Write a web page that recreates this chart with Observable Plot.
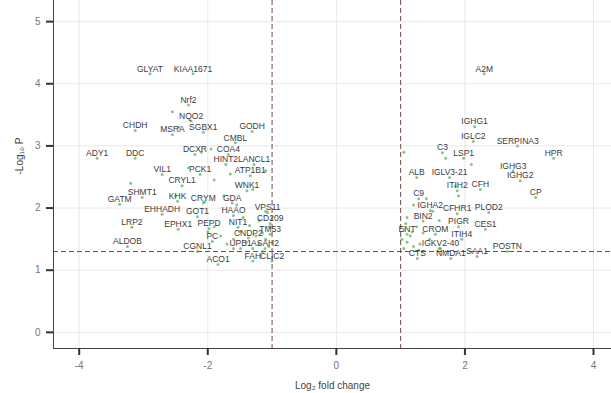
<!DOCTYPE html>
<html>
<head>
<meta charset="utf-8">
<script src="https://cdn.jsdelivr.net/npm/d3@7"></script>
<script src="https://cdn.jsdelivr.net/npm/@observablehq/plot@0.6"></script>
<style>
  html, body { margin: 0; padding: 0; background: #fff; }
  #chart svg { display: block; }
</style>
</head>
<body>
<div id="chart"></div>
<script>
// Labelled genes: name, log2 fold change, -log10 P
const genes = ["GLYAT","KIAA1671","Nrf2","NQO2","CHDH","MSRA","SGBX1","GODH","CMBL","ADY1","DDC","DCXR","COA4","HINT2","LANCL1","VIL1","PCK1","ATP1B1","CRYL1","WNK1","SHMT1","GATM","KHK","CRYM","GDA","EHHADH","GOT1","HAAO","VPS11","LRP2","EPHX1","PEPD","NIT1","CD209","ALDOB","PC","CNDP2","TM53","CGNL1","UPB1","ASAH2","ACO1","FAH","CLIC2",
  "A2M","IGHG1","IGLC2","SERPINA3","C3","LSP1","HPR","IGHG3","IGHG2","ALB","IGLV3-21","ITIH2","CFH","CP","C9","IGHA2","CFHR1","PLOD2","BIN2","PIGR","CES1","ENT","CROM","ITIH4","IGKV2-40","CTS","NMDA1","SAA1","POSTN"];
const fc = [-2.90,-2.23,-2.30,-2.26,-3.13,-2.55,-2.07,-1.31,-1.57,-3.72,-3.13,-2.20,-1.68,-1.72,-1.28,-2.71,-2.12,-1.34,-2.40,-1.39,-3.02,-3.37,-2.47,-2.07,-1.62,-2.71,-2.16,-1.60,-1.07,-3.18,-2.46,-1.98,-1.53,-1.03,-3.25,-1.93,-1.37,-1.03,-2.16,-1.49,-1.11,-1.84,-1.30,-1.00,
  2.30,2.15,2.13,2.82,1.65,1.98,3.38,2.75,2.86,1.25,1.76,1.88,2.24,3.10,1.28,1.46,1.88,2.37,1.35,1.90,2.32,1.10,1.54,1.95,1.62,1.26,1.78,2.19,2.66];
const logp = [4.16,4.16,3.66,3.40,3.25,3.18,3.22,3.23,3.05,2.80,2.80,2.86,2.86,2.70,2.70,2.54,2.54,2.52,2.36,2.28,2.17,2.06,2.11,2.08,2.08,1.90,1.86,1.88,1.93,1.69,1.66,1.67,1.69,1.75,1.38,1.46,1.52,1.58,1.30,1.35,1.35,1.09,1.15,1.15,
  4.16,3.31,3.07,3.00,2.89,2.80,2.80,2.60,2.44,2.49,2.49,2.28,2.30,2.17,2.15,1.96,1.91,1.93,1.79,1.70,1.66,1.58,1.58,1.50,1.35,1.19,1.19,1.22,1.30];

// Unlabelled significant points
const extraFc = [-1.3,-1.2,-1.1,-1.15,-1.05,-1.25,-1.4,-1.5,-1.35,-1.6,-1.7,-1.8,-1.9,-2.0,-1.45,-1.2,-1.1,-1.55,-1.75,-2.05,-1.3,-1.65,-1.9,-2.1,-1.95,-2.3,-2.5,-1.1,-2.45,-2.55,-3.2,-1.05,-1.15,-1.6,
  1.05,1.1,1.2,1.15,1.3,1.45,1.05,1.25,1.35,1.6,1.5,1.1,1.2,1.85,1.9,2.1,1.7,1.05,1.6,1.4,1.02,1.08,1.18,1.28];
const extraP = [1.35,1.42,1.5,1.6,1.38,1.55,1.45,1.62,1.72,1.5,1.42,1.55,1.7,1.62,1.85,1.8,1.95,2.05,2.2,2.1,2.3,2.55,2.45,2.9,2.95,2.65,2.2,2.6,3.3,3.55,2.4,1.7,1.3,1.35,
  1.35,1.45,1.38,1.55,1.42,1.5,1.65,1.7,1.6,1.8,1.95,1.85,2.05,2.35,2.2,2.7,2.8,2.9,1.35,2.15,1.5,1.75,1.62,1.32];

const xTicks = [-4,-2,0,2,4];
const yTicks = [0,1,2,3,4,5];
const fcCut = [-1, 1];
const pCut = [1.30103];
const xDomain = [-4.40, 4.28];
const yDomain = [-0.26, 5.34];

const labelled = genes.map((g,i) => ({gene: g, x: fc[i], y: logp[i]}));
const extra = extraFc.map((v,i) => ({x: v, y: extraP[i]}));

const chart = Plot.plot({
  width: 611,
  height: 393,
  marginLeft: 53,
  marginRight: 0,
  marginTop: 0,
  marginBottom: 45,
  style: {fontFamily: "'Liberation Sans', Arial, sans-serif", background: "#fff"},
  x: {domain: xDomain},
  y: {domain: yDomain},
  marks: [
    Plot.ruleX(xTicks, {stroke: "#e8e8e8", strokeWidth: 1}),
    Plot.ruleY(yTicks, {stroke: "#e8e8e8", strokeWidth: 1}),
    Plot.ruleX(fcCut, {stroke: "#6e4c48", strokeDasharray: "5,3", strokeWidth: 1}),
    Plot.ruleY(pCut, {stroke: "#555", strokeDasharray: "5,3", strokeWidth: 1}),
    Plot.dot(extra, {x: "x", y: "y", r: 1.5, fill: "#3c9c3c", fillOpacity: 0.6}),
    Plot.dot(labelled, {x: "x", y: "y", r: 1.5, fill: "#3c9c3c", fillOpacity: 0.6}),
    Plot.text(labelled, {x: "x", y: "y", text: "gene", dy: -5, fontSize: 8.5, fill: "#3a3a3a"}),
    Plot.ruleX([xDomain[0]], {stroke: "#444", strokeWidth: 1}),
    Plot.ruleY([yDomain[0]], {stroke: "#444", strokeWidth: 1}),
    Plot.axisX({ticks: xTicks, tickSize: 7, tickPadding: 6, strokeWidth: 2, stroke: "#333", fill: "#777", fontSize: 10,
      tickFormat: d => String(d), label: null}),
    Plot.axisY({ticks: yTicks, tickSize: 7, tickPadding: 6, strokeWidth: 2, stroke: "#333", fill: "#777", fontSize: 10,
      tickFormat: d => String(d), label: null}),
    Plot.text(["Log₂ fold change"], {frameAnchor: "bottom", dy: 40, fontSize: 10, fill: "#444"}),
    Plot.text(["-Log₁₀ P"], {frameAnchor: "left", dx: -34, rotate: -90, fontSize: 10, fill: "#444"})
  ]
});
document.getElementById("chart").appendChild(chart);
</script>
</body>
</html>
